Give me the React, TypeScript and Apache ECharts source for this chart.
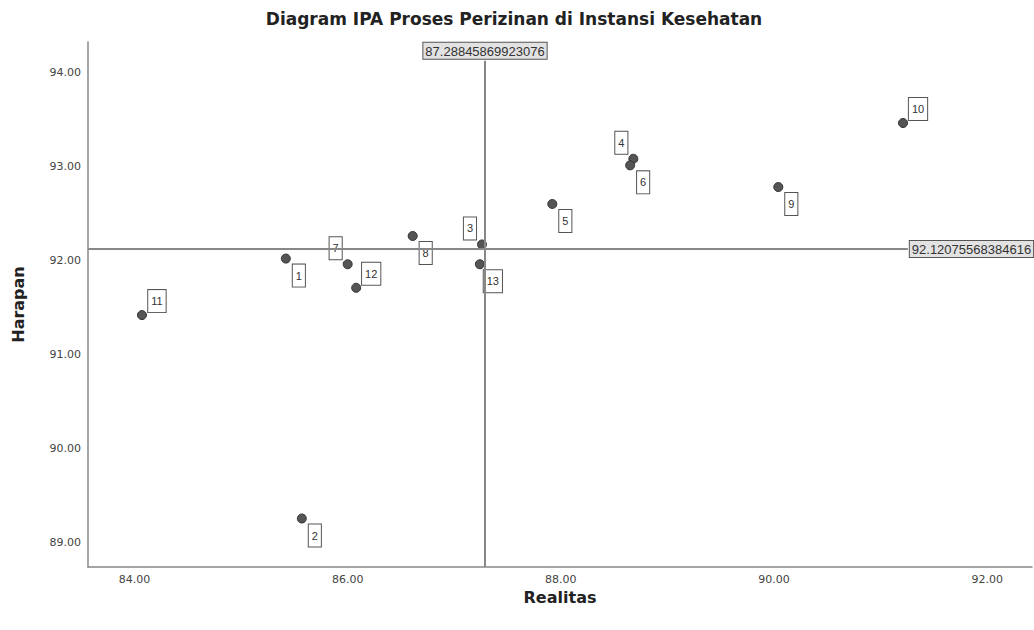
import React, { useEffect, useRef } from "react";
import * as echarts from "echarts";

const ids = ["1", "2", "3", "4", "5", "6", "7", "8", "9", "10", "11", "12", "13"];
const realitas = [85.42, 85.57, 87.26, 88.68, 87.92, 88.65, 86.0, 86.61, 90.04, 91.21, 84.07, 86.08, 87.24];
const harapan = [92.02, 89.26, 92.17, 93.08, 92.6, 93.01, 91.96, 92.26, 92.78, 93.46, 91.42, 91.71, 91.96];
// label placement: br = below-right, ul = upper-left, ur = upper-right
const placement = ["br", "br", "ul", "ul", "br", "br", "ul", "br", "br", "ur", "ur", "ur", "br"];
const meanX = 87.28845869923076;
const meanY = 92.12075568384616;
const xTicks = [84, 86, 88, 90, 92];
const yTicks = [89, 90, 91, 92, 93, 94];

const FONT = "'Liberation Sans', Arial, sans-serif";
const WIDE = "'DejaVu Sans', sans-serif";

export default function App() {
  const ref = useRef<HTMLDivElement>(null);
  useEffect(() => {
    if (!ref.current) return;
    const chart = echarts.init(ref.current, null, { renderer: "svg" });
    const offsets: Record<string, number[]> = {
      br: [13, 17],
      ul: [-12, -16],
      ur: [15, -14],
    };
    const data = ids.map((id, i) => ({
      value: [realitas[i], harapan[i]],
      name: id,
      label: { offset: offsets[placement[i]] },
    }));
    const xMin = 83.564;
    const xMax = 92.42;
    const yMin = 88.745;
    const yMax = 94.32;
    chart.setOption({
      animation: false,
      textStyle: { fontFamily: FONT },
      title: {
        text: "Diagram IPA Proses Perizinan di Instansi Kesehatan",
        left: 509,
        textAlign: "center",
        top: 5,
        textStyle: { fontSize: 17, fontWeight: "bold", color: "#222", fontFamily: WIDE },
      },
      grid: { left: 88, right: 2, top: 42, bottom: 63, containLabel: false },
      xAxis: {
        type: "value",
        min: xMin,
        max: xMax,
        name: "Realitas",
        nameLocation: "middle",
        nameGap: 18,
        nameTextStyle: { fontSize: 16, fontWeight: "bold", color: "#222", fontFamily: WIDE },
        axisLine: { show: true, onZero: false, lineStyle: { color: "#888", width: 1.5 } },
        axisTick: { show: false },
        splitLine: { show: false },
        axisLabel: {
          customValues: xTicks,
          formatter: (v: number) => v.toFixed(2),
          fontSize: 11,
          color: "#444",
          margin: 7,
          fontFamily: WIDE,
        },
      },
      yAxis: {
        type: "value",
        min: yMin,
        max: yMax,
        name: "Harapan",
        nameLocation: "middle",
        nameGap: 62,
        nameTextStyle: { fontSize: 16, fontWeight: "bold", color: "#222", fontFamily: WIDE },
        axisLine: { show: true, onZero: false, lineStyle: { color: "#888", width: 1.5 } },
        axisTick: { show: false },
        splitLine: { show: false },
        axisLabel: {
          customValues: yTicks,
          formatter: (v: number) => v.toFixed(2),
          fontSize: 11,
          color: "#444",
          margin: 7,
          fontFamily: WIDE,
        },
      },
      series: [
        {
          type: "scatter",
          symbol: "circle",
          symbolSize: 9,
          itemStyle: { color: "#555", borderColor: "#333", borderWidth: 1, opacity: 1 },
          label: {
            show: true,
            position: "inside",
            formatter: (p: any) => p.name,
            fontSize: 11,
            color: "#333",
            backgroundColor: "#fff",
            borderColor: "#555",
            borderWidth: 1,
            padding: [6, 3, 5, 3],
            fontFamily: FONT,
          },
          data,
          markLine: {
            silent: true,
            symbol: "none",
            animation: false,
            lineStyle: { color: "#888", width: 2, type: "solid" },
            label: {
              show: true,
              position: "end",
              formatter: (p: any) => p.data.labelText,
              fontSize: 13,
              color: "#333",
              backgroundColor: "#e2e2e2",
              borderColor: "#555",
              borderWidth: 1,
              padding: [2, 2, 1, 2],
              distance: 2,
              fontFamily: FONT,
            },
            data: [
              [
                { coord: [meanX, yMin], labelText: String(meanX) },
                { coord: [meanX, 94.12] },
              ],
              [
                { coord: [xMin, meanY], labelText: String(meanY) },
                { coord: [91.255, meanY] },
              ],
            ],
          },
        },
      ],
    });
    return () => chart.dispose();
  }, []);
  return (
    <div
      ref={ref}
      style={{ position: "fixed", left: 0, top: 0, width: 1034, height: 630, background: "#fff" }}
    />
  );
}
